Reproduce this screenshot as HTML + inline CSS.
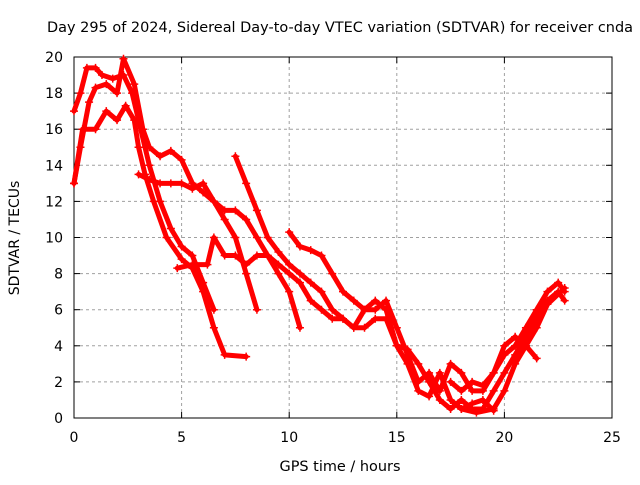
<!DOCTYPE html>
<html><head><meta charset="utf-8"><style>
body{margin:0;background:#fff;}
svg text{font-family:"DejaVu Sans","Liberation Sans",sans-serif;font-size:14px;fill:#000;}
</style></head><body>
<svg id="chart" width="640" height="480" xmlns="http://www.w3.org/2000/svg">
<text x="340" y="32" text-anchor="middle" textLength="586" lengthAdjust="spacingAndGlyphs">Day 295 of 2024, Sidereal Day-to-day VTEC variation (SDTVAR) for receiver cnda</text>
<text x="340" y="471" text-anchor="middle" textLength="121" lengthAdjust="spacingAndGlyphs">GPS time / hours</text>
<text transform="translate(19,238) rotate(-90)" text-anchor="middle">SDTVAR / TECUs</text>
<g id="grid"></g><g id="axes"></g><g id="series"></g>
</svg>
<script>
const xTicks=[0,5,10,15,20,25];
const yTicks=[0,2,4,6,8,10,12,14,16,18,20];
const trackA=[[0,17],[0.3,18],[0.6,19.4],[1.0,19.4],[1.3,19],[1.8,18.8],[2.3,19.0],[2.7,18],[3.0,16.5],[3.5,14],[4,12],[4.5,10.5],[5,9.5],[5.5,9],[6,7.5],[6.5,6]];
const trackB=[[0,13],[0.3,15],[0.7,17.5],[1,18.3],[1.5,18.5],[2,18],[2.3,19.9],[2.8,18.5],[3.2,16],[3.5,15],[4,14.5],[4.5,14.8],[5,14.3],[5.5,13],[6,12.5],[6.5,12],[7,11],[7.5,10],[8,8],[8.5,6]];
const trackC=[[0,13],[0.4,16],[1,16],[1.5,17],[2,16.5],[2.4,17.3],[2.8,16.5],[3,15],[3.3,13.5],[3.7,12],[4.3,10],[5,8.8],[5.5,8.3],[6,7],[6.5,5],[7,3.5],[8,3.4]];
const trackD=[[3,13.5],[3.5,13.2],[4,13],[4.5,13],[5,13],[5.5,12.7],[6,13],[6.5,12],[7,11.5],[7.5,11.5],[8,11],[8.5,10],[9,9],[9.5,8],[10,7],[10.5,5]];
const trackE=[[4.8,8.3],[5.5,8.5],[6.2,8.5],[6.5,10],[7,9],[7.5,9],[8,8.5],[8.5,9],[9,9],[9.5,8.5],[10,8],[10.5,7.5],[11,6.5],[11.5,6],[12,5.5],[12.5,5.5],[13,5],[13.5,5],[14,5.5],[14.5,5.5],[15,4],[15.5,3],[16,1.5],[16.5,1.2],[17,2.5],[17.5,1],[18,0.5],[18.5,0.8],[19,1],[19.5,0.4]];
const trackF=[[7.5,14.5],[8,13],[8.5,11.5],[9,10],[9.5,9.2],[10,8.5],[10.5,8],[11,7.5],[11.5,7],[12,6],[12.5,5.5],[13,5],[13.5,6],[14,6],[14.5,6.5],[15,5],[15.5,3.5],[16,2],[16.5,2.5],[17,1.5],[17.5,3],[18,2.5],[18.5,1.5],[19,1.5],[19.5,2.5],[20,3.5],[20.5,4],[21,5],[21.5,6],[22,7],[22.5,7.5],[22.8,7]];
const trackG=[[10,10.3],[10.5,9.5],[11,9.3],[11.5,9],[12,8],[12.5,7],[13,6.5],[13.5,6],[14,6.5],[14.5,6],[15,4],[15.5,3.8],[16,3],[16.5,2],[17,1],[17.5,0.5],[18,1],[18.5,0.5],[19,0.5],[19.5,1.5],[20,2.5],[20.5,3.5],[21,4.5],[21.5,5.5],[22,6.5],[22.5,7],[22.8,6.5]];
const trackH=[[17.5,2],[18,1.5],[18.5,2],[19,1.8],[19.5,2.5],[20,4],[20.5,4.5],[21,4],[21.5,3.3]];
const trackI=[[18,0.5],[18.7,0.3],[19.5,0.5],[20,1.5],[20.5,3],[21,4],[21.5,5],[22,6.3],[22.8,7.2]];
const tracks=[trackA,trackB,trackC,trackD,trackE,trackF,trackG,trackH,trackI];
const X0=74,X1=612,Y0=418,Y1=57;
function xs(v){return X0+(v/25)*(X1-X0);}
function ys(v){return Y0-(v/20)*(Y0-Y1);}
const NS="http://www.w3.org/2000/svg";
function mk(tag,attrs,parent){const e=document.createElementNS(NS,tag);for(const k in attrs)e.setAttribute(k,attrs[k]);parent.appendChild(e);return e;}
const grid=document.getElementById('grid'),axes=document.getElementById('axes'),ser=document.getElementById('series');
xTicks.forEach(t=>{
 const x=xs(t);
 if(t>0&&t<25){const g=mk('line',{x1:x,x2:x,y1:Y0,y2:Y1,stroke:'#a0a0a0','stroke-dasharray':'3,3'},grid);
 
 }
 mk('line',{x1:x,x2:x,y1:Y0,y2:Y0-6,stroke:'#000'},axes);
 mk('line',{x1:x,x2:x,y1:Y1,y2:Y1+6,stroke:'#000'},axes);
 const l=mk('text',{x:x,y:Y0+24,'text-anchor':'middle'},axes);l.textContent=t;
 
 
});
yTicks.forEach(t=>{
 const y=ys(t);
 if(t>0&&t<20){const g=mk('line',{x1:X0,x2:X1,y1:y,y2:y,stroke:'#a0a0a0','stroke-dasharray':'3,3'},grid);
 
 }
 mk('line',{x1:X0,x2:X0+6,y1:y,y2:y,stroke:'#000'},axes);
 mk('line',{x1:X1,x2:X1-6,y1:y,y2:y,stroke:'#000'},axes);
 const l=mk('text',{x:X0-11,y:y+5,'text-anchor':'end'},axes);l.textContent=t;
 
 
});
const fr=mk('rect',{x:X0,y:Y1,width:X1-X0,height:Y0-Y1,fill:'none',stroke:'#000'},axes);


tracks.forEach((tr,i)=>{
 const g=mk('g',{},ser);
 
 
 mk('polyline',{points:tr.map(p=>xs(p[0])+','+ys(p[1])).join(' '),fill:'none',stroke:'#ff0000','stroke-width':5,'stroke-linejoin':'round','stroke-linecap':'round'},g);
 tr.forEach(p=>{
  const x=xs(p[0]),y=ys(p[1]);
  const m=mk('path',{d:`M${x-4},${y}H${x+4}M${x},${y-4}V${y+4}`,stroke:'#ff0000','stroke-width':1.5},g);
  
  
 });
});
</script>
</body></html>
